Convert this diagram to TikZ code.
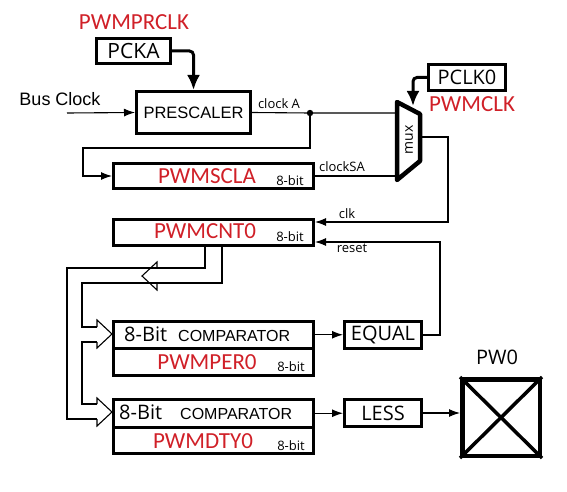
\documentclass[tikz,border=0pt]{standalone}
\usepackage{fontspec}
\setmainfont{Liberation Sans}
\newfontfamily\segoe{Open Sans}
\newfontfamily\calib{Carlito}
\usetikzlibrary{arrows.meta}
\definecolor{pwmred}{RGB}{208,32,40}
\newcommand{\fsz}[1]{\fontsize{#1}{#1}\selectfont}

\begin{document}
\begin{tikzpicture}[x=1pt,y=-1pt,
  wire/.style={line width=1.1pt},
  tip/.style={-{Latex[length=11pt,width=8pt]}},
  fat/.style={line width=3pt,rounded corners=4pt,-{Latex[length=15pt,width=13pt]}},
  box/.style={draw,line width=3pt,inner sep=0pt},
  regname/.style={text=pwmred,inner sep=0pt,font=\calib\fsz{23}},
  small/.style={inner sep=0pt,font=\segoe\fsz{13}},
  big/.style={inner sep=0pt,font=\segoe\fsz{20}}]
  \useasboundingbox (0,0) rectangle (567,492);

  % prescaler
  \node[box,big,font=\segoe\fsz{21},minimum width=74pt,minimum height=25pt] (pcka) at (133.5,51) {PCKA};
  \node[regname] (prclk) at (134,22) {PWMPRCLK};
  \node[box,minimum width=114pt,minimum height=42pt,font=\fsz{16.5}] (pre) at (193.5,112.5) {PRESCALER};
  \node[inner sep=0pt,font=\fsz{18}] (bus) at (60,99) {Bus Clock};
  \coordinate (busin) at (67,113);
  \draw[wire,tip] (busin) -- (pre.west);
  \draw[fat] (pcka.east) -| (pre.north);

  % mux
  \draw[line width=4.5pt,line join=round] (397,102) -- (420,114) -- (420,161) -- (397,180) -- cycle;
  \node[small,font=\segoe\fsz{14},rotate=90] (mux) at (409,140) {mux};
  \coordinate (mA) at (397,113);
  \coordinate (mB) at (397,176);
  \coordinate (mO) at (420,137);
  \coordinate (mT) at (413,106);
  \node[box,big,minimum width=77pt,minimum height=26pt] (pclk) at (467,77.5) {PCLK0};
  \node[regname] (pwmclk) at (472,104) {PWMCLK};
  \draw[fat] (pclk.west) -| (mT);

  % clock A
  \coordinate (dotA) at (310,113);
  \draw[wire] (pre.east) -- (dotA) -- (mA);
  \fill (dotA) circle (3.2pt);
  \node[small] (clka) at (279,104) {clock A};

  % scaler register
  \node[box,minimum width=200pt,minimum height=25pt] (scla) at (213.5,176) {};
  \node[regname] at (207,176) {PWMSCLA};
  \node[small] at (290,181) {8-bit};
  \coordinate (t1) at (310,148);
  \coordinate (t2) at (83,148);
  \draw[wire,tip] (dotA) -- (t1) -- (t2) |- (scla.west);
  \draw[wire] (scla.east) -- (mB);
  \node[small] (clksa) at (342,167) {clockSA};

  % counter
  \node[box,minimum width=200pt,minimum height=26pt] (cnt) at (213.5,232.5) {};
  \node[regname] at (205,231) {PWMCNT0};
  \node[small] at (290,237) {8-bit};
  \coordinate (c1) at (448,137);
  \coordinate (c2) at (448,222);
  \draw[wire,tip] (mO) -- (c1) -- (c2) -- ([yshift=10.5pt]cnt.east);
  \node[small] (clk) at (347,214) {clk};

  % comparators
  \node[box,minimum width=200pt,minimum height=26.5pt] (cmpper) at (213.5,334.75) {};
  \node[box,minimum width=200pt,minimum height=27.5pt] (per) at (213.5,361.75) {};
  \node[big,anchor=base west] at (124,341) {8-Bit};
  \node[inner sep=0pt,font=\fsz{16},anchor=base west] at (178,341) {COMPARATOR};
  \node[regname] at (207,362) {PWMPER0};
  \node[small] at (291,367) {8-bit};

  \node[box,minimum width=200pt,minimum height=27.5pt] (cmpdty) at (213.5,413.25) {};
  \node[box,minimum width=200pt,minimum height=26.5pt] (dty) at (213.5,440.25) {};
  \node[big,anchor=base west] at (119,419) {8-Bit};
  \node[inner sep=0pt,font=\fsz{16},anchor=base west] at (180,419) {COMPARATOR};
  \node[regname] at (203,441) {PWMDTY0};
  \node[small] at (291,446) {8-bit};

  % results
  \node[box,big,minimum width=77pt,minimum height=27pt] (equal) at (383,335) {EQUAL};
  \node[box,big,minimum width=77pt,minimum height=27pt] (less) at (383,413) {LESS};
  \node[draw,line width=4.5pt,minimum width=77.5pt,minimum height=76.5pt] (pw) at (501,417.5) {};
  \draw[line width=3.5pt] (pw.north west) -- (pw.south east) (pw.north east) -- (pw.south west);
  \node[big] (pwlbl) at (497,357) {PW0};
  \draw[wire,tip] (cmpper.east) -- (cmpper.east -| equal.west);
  \draw[wire,tip] (cmpdty.east) -- (cmpdty.east -| less.west);
  \draw[wire,tip] (less.east) -- (less.east -| pw.west);
  \coordinate (r1) at (440,242);
  \draw[wire,tip] (equal.east) -| (r1) -- ([yshift=-9.5pt]cnt.east);
  \node[small] (rst) at (352,248) {reset};

  % counter bus
  \coordinate (bo) at ([xshift=-8.5pt]cnt.south);
  \coordinate (bi) at ([xshift=8.5pt]cnt.south);
  \draw[wire] (bo) |- (67,268) |- (97,419);
  \draw[wire] (bi) |- (82,283) |- (97,327);
  \draw[wire] (97,342) -| (82,404) -- (97,404);
  \draw[wire] (157,268) -- (157,262) -- (142,276) -- (157,290) -- (157,283);
  \draw[wire] (97,327) -- (97,320) -- (112,334) -- (97,348) -- (97,342);
  \draw[wire] (97,404) -- (97,398) -- (112,412) -- (97,426) -- (97,419);
\end{tikzpicture}
\end{document}
